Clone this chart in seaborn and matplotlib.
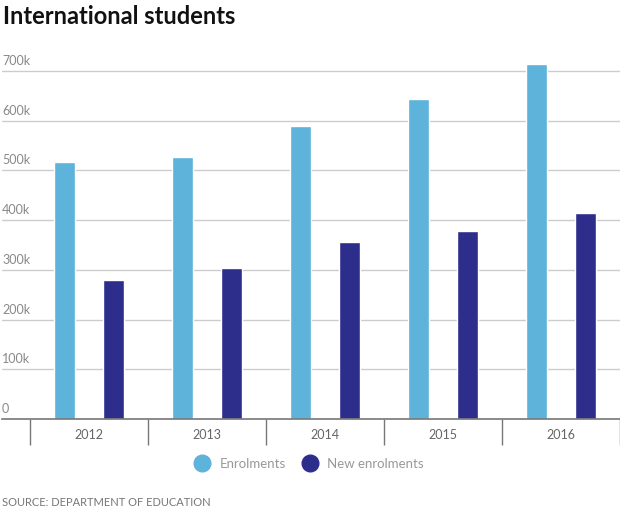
import pandas as pd
import numpy as np
import seaborn as sns
import matplotlib.pyplot as plt
from matplotlib import transforms

# values (thousands)
years = ['2012', '2013', '2014', '2015', '2016']
enrolments = [516, 527, 590, 644, 714]
new_enrolments = [280, 304, 355, 379, 415]
series_names = ['Enrolments', 'New enrolments']
y_ticks = [0, 100, 200, 300, 400, 500, 600, 700]
y_labels = ['0', '100k', '200k', '300k', '400k', '500k', '600k', '700k']

data = pd.DataFrame({
    'year': years * 2,
    'value': enrolments + new_enrolments,
    'series': [series_names[0]] * len(years) + [series_names[1]] * len(years),
})

sns.set_style('white')
plt.rcParams['font.family'] = ['Lato', 'DejaVu Sans']

colors = {'Enrolments': '#5EB3DA', 'New enrolments': '#2D2E8C'}

fig = plt.figure(figsize=(6.2, 5.15), dpi=100)
ax = fig.add_axes([2 / 620, 1 - 419 / 515, 618 / 620, 364 / 515])

sns.barplot(data=data, x='year', y='value', hue='series', palette=colors,
            width=0.84, gap=0.57, saturation=1, ax=ax, legend=False)

ax.set_xlim(-0.737, 4.5)
ax.set_ylim(0, 732)

# gridlines and inside labels for the y axis
for v, lab in zip(y_ticks, y_labels):
    if v > 0:
        ax.axhline(v, color='#cccccc', lw=1, zorder=0)
    ax.text(0.0, v + 8, lab, transform=transforms.blended_transform_factory(ax.transAxes, ax.transData),
            ha='left', va='bottom', fontsize=9, color='#888888')
ax.set_yticks([])
ax.set_ylabel('')
ax.set_xlabel('')

for s in ['top', 'right', 'left']:
    ax.spines[s].set_visible(False)
ax.spines['bottom'].set_color('#777777')
ax.spines['bottom'].set_linewidth(1.2)

# category separators below the axis
ax.set_xticks(np.arange(-0.5, len(years), 1), minor=True)
ax.tick_params(axis='x', which='minor', bottom=True, length=19, color='#777777', width=1, direction='out')
ax.tick_params(axis='x', which='major', length=0, pad=7, labelsize=9, labelcolor='#666666')

# legend
handles = [plt.Line2D([], [], marker='o', ls='', markersize=12, color=colors[n]) for n in series_names]
fig.legend(handles, series_names, loc='center', bbox_to_anchor=(0.494, 1 - 464 / 515), ncol=2,
           frameon=False, fontsize=9.5, labelcolor='#999999', handletextpad=0.3, columnspacing=0.8)

fig.text(3 / 620, 1 - 16 / 515, 'International students', fontsize=17, fontweight='bold',
         color='#111111', ha='left', va='center')
fig.text(2 / 620, 1 - 503 / 515, 'SOURCE: DEPARTMENT OF EDUCATION', fontsize=8, color='#777777',
         ha='left', va='center')

fig.savefig('out.png', dpi=100)
